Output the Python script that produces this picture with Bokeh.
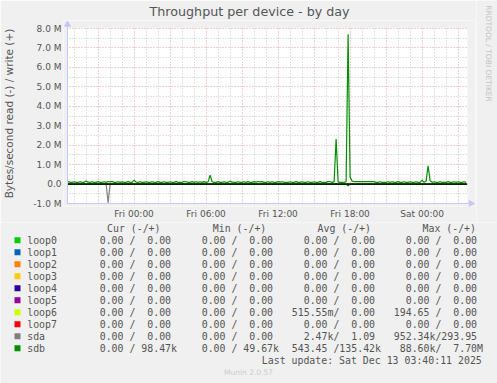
from bokeh.plotting import figure
from bokeh.layouts import column, row
from bokeh.models import Range1d, FixedTicker, Grid, BoxAnnotation
from bokeh.embed import file_html
from bokeh.resources import INLINE
from bokeh.core.properties import value

# ---------------- data ----------------
title_text = "Throughput per device - by day"
y_label = "Bytes/second read (-) / write (+)"
x_tick_hours = [0, 6, 12, 18, 24]
x_tick_labels = ["Fri 00:00", "Fri 06:00", "Fri 12:00", "Fri 18:00", "Sat 00:00"]
y_ticks = [-1, 0, 1, 2, 3, 4, 5, 6, 7, 8]
y_tick_labels = ["-1.0 M", "0.0", "1.0 M", "2.0 M", "3.0 M", "4.0 M", "5.0 M", "6.0 M", "7.0 M", "8.0 M"]

devices = ["loop0", "loop1", "loop2", "loop3", "loop4", "loop5", "loop6", "loop7", "sda", "sdb"]
colors = ["#00CC00", "#0066B3", "#FF8000", "#FFCC00", "#330099", "#990099", "#CCFF00", "#FF0000", "#808080", "#008F00"]

# 10-minute samples, hours relative to Fri 00:00
sample_start_h = -5.5
sample_step_h = 1.0 / 6.0

# sdb write, kB/s
sdb_write_k = [
    125, 88, 88, 120, 88, 88, 118, 88, 90, 160,
    95, 88, 120, 88, 88, 122, 88, 88, 118, 88,
    130, 110, 135, 88, 88, 120, 88, 115, 88, 88,
    125, 88, 88, 200, 100, 88, 118, 88, 88, 120,
    88, 88, 118, 88, 88, 122, 88, 88, 120, 88,
    88, 118, 88, 88, 125, 88, 88, 88, 130, 120,
    88, 88, 125, 88, 118, 88, 120, 88, 125, 88,
    110, 460, 120, 88, 88, 125, 88, 88, 118, 88,
    88, 150, 95, 88, 88, 120, 88, 88, 118, 88,
    122, 88, 88, 125, 100, 130, 110, 125, 88, 88,
    118, 88, 120, 88, 88, 125, 100, 120, 88, 88,
    88, 118, 88, 88, 122, 88, 88, 118, 88, 88,
    120, 88, 88, 118, 88, 88, 125, 88, 88, 88,
    125, 120, 88, 110, 2320, 110, 88, 88, 88, 120,
    7700, 350, 150, 130, 130, 130, 130, 130, 130, 130,
    130, 130, 130, 125, 88, 88, 120, 88, 88, 88,
    118, 88, 120, 88, 88, 125, 88, 88, 118, 88,
    88, 120, 88, 88, 118, 88, 88, 200, 88, 150,
    940, 180, 88, 120, 88, 88, 118, 88, 88, 88,
    125, 88, 88, 118, 88, 120, 88, 88, 118, 88,
]
# non-zero read samples (sample index -> kB/s)
sdb_read_k = {140: 88.6}
sda_read_k = {20: 952.34}

# legend table
col_headers = ["Cur (-/+)", "Min (-/+)", "Avg (-/+)", "Max (-/+)"]
cur_vals = ["  0.00 /  0.00"] * 9 + ["  0.00 / 98.47k"]
min_vals = ["  0.00 /  0.00"] * 9 + ["  0.00 / 49.67k"]
avg_vals = ["  0.00 /  0.00"] * 6 + ["515.55m/  0.00", "  0.00 /  0.00", "  2.47k/  1.09", "543.45 /135.42k"]
max_vals = ["  0.00 /  0.00"] * 6 + ["194.65 /  0.00", "  0.00 /  0.00", "952.34k/293.95", " 88.60k/  7.70M"]
last_update = "Last update: Sat Dec 13 03:40:11 2025"
rrd_credit = "RRDTOOL / TOBI OETIKER"
munin_version = "Munin 2.0.57"

# ---------------- build series ----------------
n = len(sdb_write_k)
t = [sample_start_h + i * sample_step_h for i in range(n)]
series = {}
for d in devices:
    series[d] = ([0.0] * n, [0.0] * n)
for i, v in sda_read_k.items():
    series["sda"][0][i] = v
for i, v in sdb_read_k.items():
    series["sdb"][0][i] = v
series["sdb"] = (series["sdb"][0], list(sdb_write_k))

BG = "#f0f0f0"
TXT = "#555555"
AXC = "#c8c8f8"


def no_align(fig):
    if "frame_align" in fig.properties():
        fig.frame_align = False


# ---------------- main graph ----------------
PXX = 12.0          # px per hour
PXY = 175.0 / 9.0   # px per M
x0 = -5.55
x1 = x0 + 400.0 / PXX
TOP_H = 222
MAIN_W = 476
# chart area 67..467 x 28..203; frame slightly larger so the axis arrows fit
EXT_L, EXT_R, EXT_T, EXT_B = 4, 8, 8, 3

p = figure(width=MAIN_W, height=TOP_H,
           x_range=Range1d(x0 - EXT_L / PXX, x1 + EXT_R / PXX),
           y_range=Range1d(-1 - EXT_B / PXY, 8 + EXT_T / PXY),
           output_backend="svg", toolbar_location=None,
           min_border_left=67 - EXT_L, min_border_right=MAIN_W - 467 - EXT_R,
           min_border_top=28 - EXT_T, min_border_bottom=TOP_H - 203 - EXT_B)
no_align(p)
p.background_fill_color = "white"
p.border_fill_color = BG
p.outline_line_color = None
p.grid.visible = False

p.title.text = title_text
p.title.align = "left"
p.title.offset = 82 + EXT_L
p.title.text_font = "DejaVu Sans"
p.title.text_font_size = "12.7px"
p.title.text_font_style = "normal"
p.title.text_color = TXT
if "standoff" in p.title.properties():
    p.title.standoff = 3

minor_x = [h for h in range(-5, 28) if h % 3 != 0]
major_x = [h for h in range(-3, 28, 3)]
minor_y = [v + 0.5 for v in range(-1, 8)]
p.add_layout(Grid(dimension=0, ticker=FixedTicker(ticks=minor_x), grid_line_color="#c8c8c8", grid_line_dash="1 2"))
p.add_layout(Grid(dimension=1, ticker=FixedTicker(ticks=minor_y), grid_line_color="#c8c8c8", grid_line_dash="1 2"))
p.add_layout(Grid(dimension=0, ticker=FixedTicker(ticks=major_x), grid_line_color="#eaa0a0", grid_line_dash="1 2"))
p.add_layout(Grid(dimension=1, ticker=FixedTicker(ticks=y_ticks), grid_line_color="#eaa0a0", grid_line_dash="1 2"))

# grey margins around the chart area (hide grid overflow)
for kw in (dict(bottom=8 + 0.6 / PXY), dict(top=-1 - 0.6 / PXY), dict(right=x0 - 0.6 / PXX), dict(left=x1)):
    p.add_layout(BoxAnnotation(fill_color=BG, fill_alpha=1.0, line_color=None, level="glyph", **kw))

for ax in (p.xaxis, p.yaxis):
    ax.major_tick_line_color = None
    ax.minor_tick_line_color = None
    ax.major_tick_out = 0
    ax.major_tick_in = 0
    ax.axis_line_color = None
    ax.major_label_text_font = "DejaVu Sans"
    ax.major_label_text_font_size = "9px"
    ax.major_label_text_color = TXT

p.xaxis.ticker = FixedTicker(ticks=x_tick_hours)
p.xaxis.major_label_overrides = {h: s for h, s in zip(x_tick_hours, x_tick_labels)}
p.xaxis.major_label_standoff = 5 - EXT_B
p.yaxis.ticker = FixedTicker(ticks=y_ticks)
p.yaxis.major_label_overrides = {v: s for v, s in zip(y_ticks, y_tick_labels)}
p.yaxis.major_label_standoff = 6 - EXT_L
p.yaxis.axis_label = y_label
p.yaxis.axis_label_text_font = "DejaVu Sans"
p.yaxis.axis_label_text_font_size = "10.5px"
p.yaxis.axis_label_text_font_style = "normal"
p.yaxis.axis_label_text_color = TXT
p.yaxis.axis_label_standoff = 15

for d, c in zip(devices, colors):
    rd, wr = series[d]
    p.line(t, [-v / 1000.0 for v in rd], line_color=c, line_width=1.2)
    p.line(t, [v / 1000.0 for v in wr], line_color=c, line_width=1.2)

# zero rule
p.line([x0, x1], [0, 0], line_color="black", line_width=1.3)

# axis lines with arrow heads (rrdtool style)
p.line([x0, x0], [-1, 8 + 6 / PXY], line_color=AXC, line_width=1, level="overlay")
p.line([x0, x1 + 3 / PXX], [-1, -1], line_color=AXC, line_width=1, level="overlay")
p.scatter([x0], [8 + 4 / PXY], marker="triangle", size=6, fill_color=AXC, line_color=AXC, level="overlay")
p.scatter([x1 + 3.5 / PXX], [-1], marker="triangle", angle=-90, angle_units="deg", size=6,
          fill_color=AXC, line_color=AXC, level="overlay")

# ---------------- right strip with rrdtool credit ----------------
STRIP_W = 497 - MAIN_W
s = figure(width=STRIP_W, height=TOP_H, x_range=Range1d(MAIN_W, 497), y_range=Range1d(TOP_H, 0),
           output_backend="svg", toolbar_location=None, x_axis_type=None, y_axis_type=None,
           min_border_left=0, min_border_right=0, min_border_top=0, min_border_bottom=0)
no_align(s)
s.grid.visible = False
s.outline_line_color = None
s.background_fill_color = BG
s.border_fill_color = BG
s.text(x=[488], y=[53], text=[rrd_credit], angle=-90, angle_units="deg",
       text_font=value("DejaVu Sans"), text_font_size="7.5px", text_color="#c4c4c4",
       text_align="center", text_baseline="middle")

# ---------------- legend area ----------------
H2 = 383 - TOP_H
q = figure(width=497, height=H2, x_range=Range1d(0, 497), y_range=Range1d(H2, 0),
           output_backend="svg", toolbar_location=None, x_axis_type=None, y_axis_type=None,
           min_border_left=0, min_border_right=0, min_border_top=0, min_border_bottom=0)
no_align(q)
q.grid.visible = False
q.outline_line_color = None
q.background_fill_color = BG
q.border_fill_color = BG

NB = "\u00a0"
FS = "9.9px"
row_y = [17.7 + 12 * r for r in range(len(devices))]
q.rect(x=[17] * len(devices), y=row_y, width=6, height=6, fill_color=colors, line_color=None)

mono = value("DejaVu Sans Mono")
q.text(x=[26.7] * len(devices), y=row_y, text=devices, text_font=mono, text_font_size=FS,
       text_color=TXT, text_baseline="middle", text_align="left")
field_x = [87.3, 189.3, 291.3, 393.3]
for fx, vals in zip(field_x, [cur_vals, min_vals, avg_vals, max_vals]):
    q.text(x=[fx] * len(vals), y=row_y, text=[v.replace(" ", NB) for v in vals], text_font=mono,
           text_font_size=FS, text_color=TXT, text_baseline="middle", text_align="left")
header_x = [106.5, 212.3, 317.0, 422.0]
q.text(x=header_x, y=[5.7] * 4, text=[h.replace(" ", NB) for h in col_headers], text_font=mono,
       text_font_size=FS, text_color=TXT, text_baseline="middle", text_align="left")
q.text(x=[261.3], y=[137.7], text=[last_update.replace(" ", NB)], text_font=mono,
       text_font_size=FS, text_color=TXT, text_baseline="middle", text_align="left")
q.text(x=[248], y=[149.7], text=[munin_version], text_font=value("DejaVu Sans"),
       text_font_size="7.5px", text_color="#cccccc", text_baseline="middle", text_align="center")

layout = column(row(p, s, spacing=0), q, spacing=0)
open("out.html", "w").write(file_html(layout, INLINE))
